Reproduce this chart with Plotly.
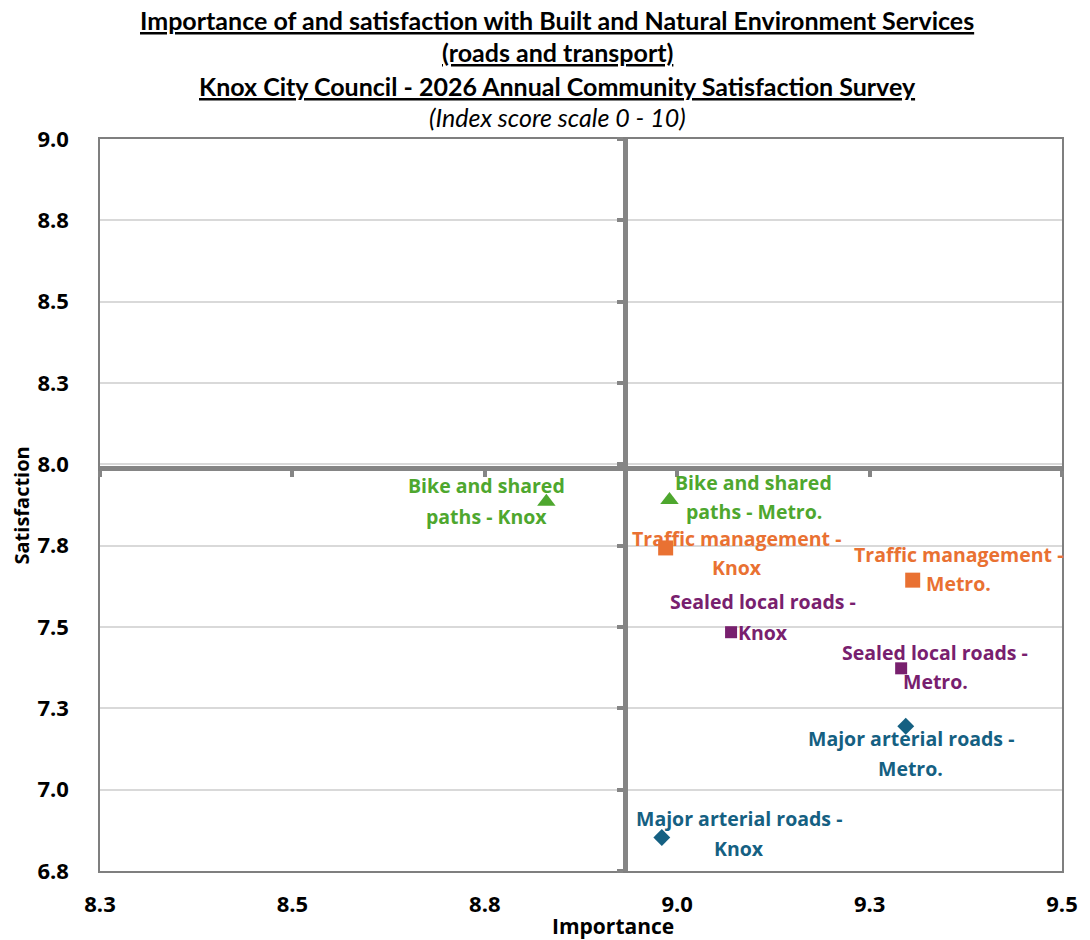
import plotly.graph_objects as go

# ---------------- data ----------------
services = ["Bike and shared paths", "Traffic management", "Sealed local roads", "Major arterial roads"]
importance_knox = [8.83, 8.985, 9.07, 8.98]
satisfaction_knox = [7.885, 7.743, 7.484, 6.853]
importance_metro = [8.99, 9.306, 9.291, 9.297]
satisfaction_metro = [7.89, 7.644, 7.373, 7.195]

labels_knox = ["Bike and shared<br>paths - Knox", "Traffic management -<br>Knox",
               "Sealed local roads -<br>Knox", "Major arterial roads -<br>Knox"]
labels_metro = ["Bike and shared<br>paths - Metro.", "Traffic management -<br>Metro.",
                "Sealed local roads -<br>Metro.", "Major arterial roads -<br>Metro."]

x_tickvals = [8.25, 8.5, 8.75, 9.0, 9.25, 9.5]
x_ticktext = ["8.3", "8.5", "8.8", "9.0", "9.3", "9.5"]
y_tickvals = [6.75, 7.0, 7.25, 7.5, 7.75, 8.0, 8.25, 8.5, 8.75, 9.0]
y_ticktext = ["6.8", "7.0", "7.3", "7.5", "7.8", "8.0", "8.3", "8.5", "8.8", "9.0"]

x_range = [8.25, 9.5]
y_range = [6.75, 9.0]
importance_cross = 8.932   # average importance (vertical divider)
satisfaction_cross = 7.99  # average satisfaction (horizontal divider)

title_lines = ["Importance of and satisfaction with Built and Natural Environment Services",
               "(roads and transport)",
               "Knox City Council - 2026 Annual Community Satisfaction Survey"]
subtitle = "(Index score scale 0 - 10)"

# ---------------- styles ----------------
TFONT = "Lato"
FONT = "Open Sans"
colors = ["#4ea72e", "#e97132", "#78206e", "#156082"]
symbols = ["triangle-up", "square", "square", "diamond"]
msizes = [16, 15, 12, 13]
# label offsets (px) : (dx, line1 dy, line2 dy)
off_knox = [(-60, 16, -15), (71, 9, -20), (32, 31, 0), (77, 19, -11)]
off_metro = [(84, 18, -11), (46, 26, -3), (34, 16, -13), (5, -12, -42)]

W, H = 1090, 940
ml, mr, mt, mb = 100, 22, 139, 69
plot_h = H - mt - mb
plot_w = W - ml - mr
title_x = (560 - ml) / plot_w

fig = go.Figure()

for i, s in enumerate(services):
    fig.add_trace(go.Scatter(
        x=[importance_knox[i], importance_metro[i]],
        y=[satisfaction_knox[i], satisfaction_metro[i]],
        mode="markers", name=s,
        marker=dict(color=colors[i], symbol=symbols[i], size=msizes[i], line=dict(width=0)),
        showlegend=False, hoverinfo="skip"))

# dummy trace to attach divider axes
fig.add_trace(go.Scatter(x=[None], y=[None], xaxis="x2", yaxis="y2", showlegend=False,
                         hoverinfo="skip", mode="markers"))

annotations = []
def add_label(x, y, text, off, color):
    lines = text.split("<br>")
    dx = off[0]
    for ln, dy in zip(lines, off[1:]):
        annotations.append(dict(x=x, y=y, xref="x", yref="y", text=ln,
                                showarrow=False, xshift=dx, yshift=dy, borderpad=0,
                                xanchor="center", yanchor="middle",
                                font=dict(family=FONT, size=19.5, color=color, weight="bold")))

for i in range(len(services)):
    add_label(importance_knox[i], satisfaction_knox[i], labels_knox[i], off_knox[i], colors[i])
    add_label(importance_metro[i], satisfaction_metro[i], labels_metro[i], off_metro[i], colors[i])

# title lines
title_y_px = [20, 52, 86]
for t, ypx in zip(title_lines, title_y_px):
    annotations.append(dict(text="<u>%s</u>" % t, x=title_x, xref="paper",
                            y=1 + (mt - ypx) / plot_h, yref="paper", xanchor="center",
                            yanchor="middle", showarrow=False,
                            font=dict(family=TFONT, size=25, color="black", weight="bold")))
annotations.append(dict(text="<i>%s</i>" % subtitle, x=title_x, xref="paper",
                        y=1 + (mt - 117) / plot_h, yref="paper", xanchor="center",
                        yanchor="middle", showarrow=False,
                        font=dict(family=TFONT, size=25, color="black")))
# axis titles
annotations.append(dict(text="Importance", x=(616 - ml) / plot_w, xref="paper",
                        y=-(926 - (H - mb)) / plot_h, yref="paper", xanchor="center",
                        yanchor="middle", showarrow=False,
                        font=dict(family=FONT, size=21, color="black", weight="bold")))
annotations.append(dict(text="Satisfaction", x=-(ml - 21) / plot_w, xref="paper",
                        y=0.5, yref="paper", xanchor="center", yanchor="middle",
                        textangle=-90, showarrow=False,
                        font=dict(family=FONT, size=20, color="black", weight="bold")))

tickfont = dict(family=FONT, size=22, color="black", weight="bold")
fig.update_layout(
    width=W, height=H, margin=dict(l=ml, r=mr, t=mt, b=mb),
    paper_bgcolor="white", plot_bgcolor="white",
    annotations=annotations,
    xaxis=dict(range=x_range, tickvals=x_tickvals, ticktext=x_ticktext, showgrid=False,
               zeroline=False, showline=True, mirror=True, linecolor="#7f7f7f", linewidth=1.5,
               ticks="", tickfont=tickfont, ticklabelstandoff=13),
    yaxis=dict(range=y_range, tickvals=y_tickvals, ticktext=y_ticktext, showgrid=True,
               gridcolor="#d9d9d9", gridwidth=1.5, zeroline=False, showline=True, mirror=True,
               linecolor="#7f7f7f", linewidth=1.5, ticks="", tickfont=tickfont,
               ticklabelstandoff=25),
    xaxis2=dict(range=x_range, tickvals=x_tickvals, overlaying="x", anchor="free",
                position=(satisfaction_cross - y_range[0]) / (y_range[1] - y_range[0]),
                showticklabels=False, ticks="outside", ticklen=6, tickwidth=4,
                tickcolor="#858585", showline=True, linewidth=5, linecolor="#858585",
                showgrid=False, zeroline=False),
    yaxis2=dict(range=y_range, tickvals=y_tickvals, overlaying="y", anchor="free", side="left",
                position=(importance_cross - x_range[0]) / (x_range[1] - x_range[0]),
                showticklabels=False, ticks="outside", ticklen=6, tickwidth=4,
                tickcolor="#858585", showline=True, linewidth=5, linecolor="#858585",
                showgrid=False, zeroline=False),
)

fig.write_html("out.html", config={"displayModeBar": False},
               post_script="document.body.style.margin='0';document.body.style.overflow='hidden';")
